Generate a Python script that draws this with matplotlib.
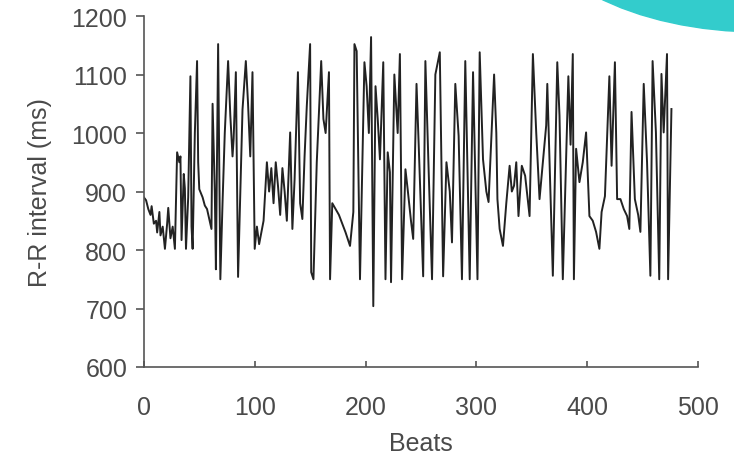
import matplotlib

matplotlib.use("Agg")
import matplotlib.pyplot as plt
from matplotlib.patches import Ellipse

# vertices of the R-R trace
beats = [
    0, 2, 4, 6, 7, 9, 11, 12, 14, 15, 17, 19, 21, 22, 24, 26, 28, 30, 32, 33,
    34, 36, 37, 38, 40, 42, 43, 44, 46, 48, 49, 50, 53, 55, 57, 59, 61, 62, 64, 65,
    67, 69, 71, 73, 76, 78, 80, 81, 83, 85, 87, 89, 92, 94, 96, 98, 100, 102, 104, 106,
    108, 111, 113, 115, 117, 119, 121, 123, 125, 127, 129, 132, 134, 136, 139, 141, 143, 145, 147, 150,
    151, 153, 156, 160, 162, 164, 167, 168, 170, 173, 176, 179, 182, 186, 189, 190, 192, 195, 199, 201,
    203, 205, 207, 209, 211, 213, 216, 218, 220, 222, 223, 226, 229, 231, 233, 236, 238, 241, 243, 246,
    248, 252, 254, 257, 260, 263, 267, 270, 273, 276, 278, 281, 284, 287, 290, 292, 294, 297, 301, 303,
    306, 309, 311, 316, 318, 319, 321, 324, 327, 330, 332, 334, 336, 338, 341, 344, 348, 351, 354, 357,
    360, 363, 364, 369, 373, 375, 378, 383, 385, 387, 388, 390, 393, 396, 399, 402, 405, 408, 411, 413,
    416, 420, 422, 425, 427, 430, 433, 436, 438, 440, 443, 446, 448, 451, 454, 457, 459, 462, 465, 467,
    469, 472, 473, 476,
]
rr_ms = [
    890, 885, 870, 860, 875, 845, 850, 830, 865, 825, 840, 802, 845, 872, 820, 840, 802, 967, 950, 960,
    817, 930, 905, 802, 890, 1097, 840, 802, 1000, 1123, 950, 904, 890, 876, 870, 853, 836, 1050, 900, 767,
    1152, 750, 882, 1000, 1123, 1030, 960, 990, 1104, 754, 900, 1040, 1123, 1050, 960, 1104, 802, 840, 810, 830,
    850, 950, 900, 940, 880, 950, 910, 860, 940, 900, 850, 1001, 836, 921, 1104, 880, 853, 960, 1046, 1152,
    762, 750, 950, 1123, 1024, 1000, 1104, 750, 880, 870, 860, 845, 830, 807, 865, 1152, 1140, 750, 1121, 1080,
    1000, 1164, 704, 1080, 1024, 955, 1121, 750, 967, 933, 745, 1100, 1000, 1135, 750, 938, 904, 850, 819, 1084,
    978, 755, 1123, 933, 750, 1100, 1138, 755, 950, 900, 813, 1084, 995, 750, 1123, 933, 750, 1104, 750, 1138,
    955, 900, 882, 1100, 1000, 887, 836, 807, 880, 944, 900, 910, 950, 858, 944, 927, 858, 1135, 1001, 887,
    950, 1013, 1084, 756, 1121, 1030, 750, 1097, 980, 1135, 750, 973, 916, 950, 1001, 858, 850, 831, 802, 865,
    892, 1097, 944, 1121, 887, 887, 870, 858, 836, 1036, 887, 860, 831, 1084, 950, 756, 1123, 1001, 750, 1101,
    1001, 1135, 750, 1041,
]
y_ticks = [600, 700, 800, 900, 1000, 1100, 1200]
x_ticks = [0, 100, 200, 300, 400, 500]

plt.rcParams["font.family"] = ["Liberation Sans", "DejaVu Sans"]
text_color = "#4a4a4a"

fig = plt.figure(figsize=(7.34, 4.6), dpi=100)
ax = fig.add_axes([0.196, 0.2, 0.755, 0.763])
ax.plot(beats, rr_ms, color="#222222", lw=1.4)

ax.set_xlim(0, 500)
ax.set_ylim(600, 1200)
ax.set_xticks(x_ticks)
ax.set_yticks(y_ticks)
for side in ("top", "right"):
    ax.spines[side].set_visible(False)
for side in ("left", "bottom"):
    ax.spines[side].set_color("#555555")
    ax.spines[side].set_linewidth(1.2)
ax.tick_params(axis="y", direction="out", length=6, width=1.2, color="#555555",
               labelsize=18, labelcolor=text_color, pad=6)
ax.tick_params(axis="x", direction="in", length=4, width=1.2, color="#555555",
               labelsize=18, labelcolor=text_color, pad=20)
ax.set_xlabel("Beats", fontsize=18, color=text_color, labelpad=9)
ax.set_ylabel("R-R interval (ms)", fontsize=18, color=text_color, labelpad=14)

# teal decoration in the top right corner
fig.add_artist(Ellipse((760 / 734, 1 + 90 / 460), 2 * 233 / 734, 2 * 123 / 460,
                       transform=fig.transFigure, color="#33cccc", zorder=5))

fig.savefig("out.png", dpi=100)
